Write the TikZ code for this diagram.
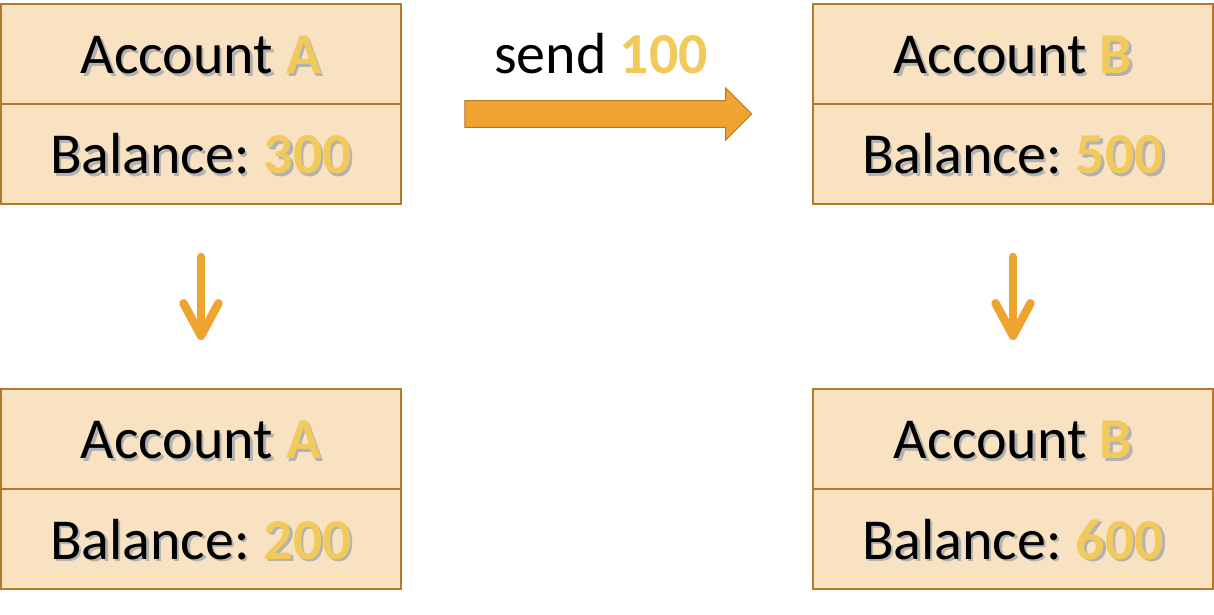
\documentclass[tikz,border=0pt]{standalone}
\usepackage{fontspec}
\setmainfont{Carlito}
\usepackage{tikz}
\usetikzlibrary{arrows.meta,shapes.arrows}
\definecolor{cellfill}{HTML}{F9E2C2}
\definecolor{celldraw}{HTML}{B5792A}
\definecolor{numcol}{HTML}{F2CA5C}
\definecolor{arrcol}{HTML}{EFA430}
\colorlet{hlcol}{numcol}
\newcommand{\hl}[1]{\textcolor{hlcol}{\textbf{#1}}}
\newcommand{\shd}[1]{\leavevmode\rlap{\kern1.4pt\raisebox{-1.4pt}{\colorlet{hlcol}{black!30}\color{black!30}#1}}#1}
\tikzset{AccCell/.style={draw=celldraw,fill=cellfill,line width=0.04cm,minimum width=8cm,minimum height=2cm,inner sep=0pt,text height=0.8cm,text depth=0pt,font=\fontsize{33}{40}\selectfont}}
\tikzset{DownArr/.style={arrcol,line width=0.17cm,line cap=round,-{Straight Barb[round,length=0.65cm,width=0.7cm]}}}

\begin{document}
\begin{tikzpicture}[x=0.02cm,y=-0.02cm]
	\useasboundingbox (0,0) rectangle (1214,615);
	\node[AccCell] (A1) at (201,54) {\shd{Account \hl{A}}};
	\node[AccCell] (A1b) at (201,154) {\shd{Balance:\hspace{0.24em}\hl{300}}};
	\node[AccCell] (B1) at (1013,54) {\shd{Account \hl{B}}};
	\node[AccCell] (B1b) at (1013,154) {\shd{Balance:\hspace{0.24em}\hl{500}}};
	\node[AccCell] (A2) at (201,439) {\shd{Account \hl{A}}};
	\node[AccCell] (A2b) at (201,539) {\shd{Balance:\hspace{0.24em}\hl{200}}};
	\node[AccCell] (B2) at (1013,439) {\shd{Account \hl{B}}};
	\node[AccCell] (B2b) at (1013,539) {\shd{Balance:\hspace{0.24em}\hl{600}}};
	%
	\node[single arrow,draw=celldraw,fill=arrcol,line width=0.02cm,inner sep=0pt,text height=0.52cm,text depth=0pt,minimum height=5.74cm,single arrow head extend=0.25cm,single arrow tip angle=90] (send) at (601.5,114) {};
	\node[anchor=base,font=\fontsize{33}{40}\selectfont] (sendlbl) at (601,74) {send \textcolor{numcol}{\textbf{100}}};
	%
	\draw[DownArr] ([yshift=-1.04cm]A1b.south) -- ([yshift=0.96cm]A2.north);
	\draw[DownArr] ([yshift=-1.04cm]B1b.south) -- ([yshift=0.96cm]B2.north);
\end{tikzpicture}
\end{document}
